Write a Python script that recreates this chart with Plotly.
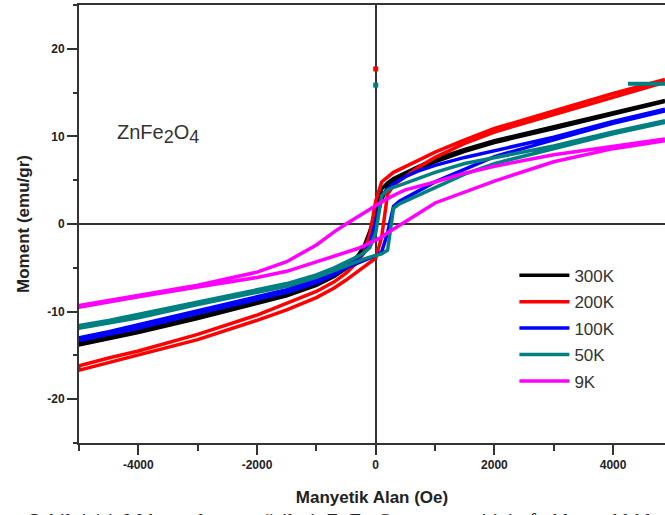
import plotly.graph_objects as go

# Field grid (Oe)
H = [-5000, -4500, -4000, -3000, -2000, -1500, -1000, -700, -500, -300, -200, -100,
     0, 100, 200, 300, 400, 500, 700, 1000, 1500, 2000, 3000, 4000, 4875]

# Moment (emu/gr): descending-field branch ("up") and ascending-field branch ("low")
m300_up = [-13.6, -12.9, -12.2, -10.6, -8.9, -8.0, -6.8, -5.8, -4.9, -3.6, -2.6, -0.8,
           1.4, 4.0, 4.7, 5.2, 5.6, 5.9, 6.5, 7.4, 8.5, 9.5, 11.1, 12.7, 14.1]
m300_low = [-13.8, -13.1, -12.4, -10.8, -9.1, -8.2, -7.0, -6.0, -5.1, -4.0, -3.1, -1.9,
            0.2, 2.8, 4.2, 4.9, 5.3, 5.6, 6.2, 7.1, 8.3, 9.3, 10.9, 12.5, 14.0]

m200_up = [-16.2, -15.3, -14.5, -12.6, -10.4, -9.1, -7.7, -6.6, -5.6, -4.3, -3.3, -1.2,
           2.6, 4.8, 5.35, 5.9, 6.3, 6.6, 7.2, 8.2, 9.6, 10.9, 12.9, 14.9, 16.5]
m200_low = [-16.7, -15.8, -15.0, -13.2, -11.0, -9.8, -8.4, -7.3, -6.4, -5.4, -5.0, -4.5,
            -3.9, -1.5, 3.4, 4.4, 4.9, 5.4, 6.4, 7.6, 9.2, 10.5, 12.5, 14.5, 16.2]

m100_up = [-13.0, -12.3, -11.6, -9.9, -8.3, -7.5, -6.3, -5.4, -4.6, -3.9, -3.3, -2.3,
           0.3, 3.2, 4.0, 4.6, 5.0, 5.4, 6.0, 6.7, 7.6, 8.4, 9.9, 11.7, 13.1]
m100_low = [-13.3, -12.6, -11.9, -10.2, -8.6, -7.8, -6.7, -5.8, -5.0, -4.5, -4.2, -3.9,
            -3.6, -3.2, -1.0, 2.0, 2.6, 3.0, 3.7, 4.8, 6.3, 7.7, 9.6, 11.5, 12.9]

m50_up = [-11.6, -11.0, -10.4, -8.9, -7.5, -6.8, -5.8, -5.0, -4.4, -3.7, -3.3, -2.7,
          -1.0, 3.2, 3.9, 4.2, 4.4, 4.6, 5.1, 5.9, 6.9, 7.5, 8.9, 10.5, 11.8]
m50_low = [-11.9, -11.3, -10.7, -9.2, -7.8, -7.1, -6.1, -5.3, -4.7, -4.2, -4.0, -3.8,
           -3.6, -3.4, -3.0, 1.8, 2.3, 2.6, 3.2, 4.1, 5.7, 6.9, 8.6, 10.3, 11.6]

m9_up = [-9.3, -8.7, -8.1, -7.0, -5.5, -4.3, -2.4, -0.9, 0.0, 0.8, 1.2, 1.6,
         2.1, 2.5, 2.9, 3.3, 3.6, 3.9, 4.3, 4.8, 5.8, 6.6, 7.9, 8.9, 9.7]
m9_low = [-9.5, -8.9, -8.3, -7.2, -6.1, -5.4, -4.3, -3.7, -3.3, -2.8, -2.5, -2.2,
          -1.9, -1.5, -1.0, -0.6, -0.1, 0.3, 1.1, 2.4, 3.7, 4.9, 7.1, 8.6, 9.5]

series_names = ["300K", "200K", "100K", "50K", "9K"]
series_up = [m300_up, m200_up, m100_up, m50_up, m9_up]
series_low = [m300_low, m200_low, m100_low, m50_low, m9_low]
series_colors = ["#000000", "#FF0000", "#0000FF", "#008080", "#FF00FF"]

# stray points in the measurement
stray_red_H = [0]
stray_red_M = [17.7]
stray_teal_H = [0]
stray_teal_M = [15.85]
teal_seg_H = [4250, 4875]
teal_seg_M = [16.0, 16.0]

x_tick_vals = [-4000, -2000, 0, 2000, 4000]
x_tick_text = ["-4000", "-2000", "0", "2000", "4000"]
x_minor_vals = [-5000, -3000, -1000, 1000, 3000]
y_tick_vals = [-20, -10, 0, 10, 20]
y_tick_text = ["-20", "-10", "0", "10", "20"]
y_minor_vals = [-25, -15, -5, 5, 15, 25]

fig = go.Figure()
for name, up, low, col in zip(series_names, series_up, series_low, series_colors):
    fig.add_trace(go.Scatter(
        x=H[::-1] + H, y=up[::-1] + low, mode="lines", name=name,
        legendgroup=name, line=dict(color=col, width=3.5)))

fig.add_trace(go.Scatter(x=stray_red_H, y=stray_red_M, mode="markers",
                         marker=dict(color="#FF0000", size=5, symbol="square"), showlegend=False))
fig.add_trace(go.Scatter(x=stray_teal_H, y=stray_teal_M, mode="markers",
                         marker=dict(color="#008080", size=5, symbol="square"), showlegend=False))
fig.add_trace(go.Scatter(x=teal_seg_H, y=teal_seg_M, mode="lines",
                         line=dict(color="#008080", width=4), showlegend=False))

tickfont = dict(family="Liberation Sans", size=12, color="#222", weight="bold")
axcol = "#333"

fig.update_layout(
    width=665, height=515,
    margin=dict(l=79, r=0, t=5, b=72),
    paper_bgcolor="white", plot_bgcolor="white",
    showlegend=True,
    legend=dict(x=0.743, y=0.423, xanchor="left", yanchor="top",
                font=dict(family="Liberation Sans", size=17, color="#333"),
                bgcolor="rgba(0,0,0,0)", tracegroupgap=1.3, traceorder="grouped",
                itemwidth=50),
    xaxis=dict(range=[-5000, 4875], showgrid=False,
               showline=True, linecolor=axcol, linewidth=2, mirror=True,
               zeroline=True, zerolinecolor=axcol, zerolinewidth=2,
               tickmode="array", tickvals=x_tick_vals, ticktext=x_tick_text,
               ticks="outside", ticklen=10, tickwidth=2, tickcolor=axcol,
               minor=dict(tickvals=x_minor_vals, ticks="outside", ticklen=6,
                          tickwidth=2, tickcolor=axcol),
               tickfont=tickfont,
               title=dict(text="Manyetik Alan (Oe)", standoff=20,
                          font=dict(family="Liberation Sans", size=17, color="#222",
                                    weight="bold"))),
    yaxis=dict(range=[-25, 25], showgrid=False,
               showline=True, linecolor=axcol, linewidth=2, mirror=False,
               zeroline=True, zerolinecolor=axcol, zerolinewidth=2,
               tickmode="array", tickvals=y_tick_vals, ticktext=y_tick_text,
               ticks="outside", ticklen=10, tickwidth=2, tickcolor=axcol,
               minor=dict(tickvals=y_minor_vals, ticks="outside", ticklen=4,
                          tickwidth=2, tickcolor=axcol),
               tickfont=tickfont,
               title=dict(text="Moment (emu/gr)", standoff=13,
                          font=dict(family="Liberation Sans", size=17, color="#222",
                                    weight="bold"))),
)

fig.add_annotation(x=-4400, y=10.3, xref="x", yref="y", xanchor="left", yanchor="middle",
                   text="ZnFe<sub><span style='font-size:18px'>2</span></sub>O<sub><span style='font-size:18px'>4</span></sub>",
                   showarrow=False,
                   font=dict(family="Liberation Sans", size=20, color="#333"))

fig.add_annotation(x=-0.09, y=-0.147, xref="paper", yref="paper", xanchor="left", yanchor="top",
                   text="Şekil 4.14. Mıknatıslanma eğrileri, ZnFe<sub>2</sub>O<sub>4</sub> numunesi için farklı sıcaklıklarda",
                   showarrow=False,
                   font=dict(family="Liberation Serif", size=21, color="#222"))

fig.write_html("out.html")
